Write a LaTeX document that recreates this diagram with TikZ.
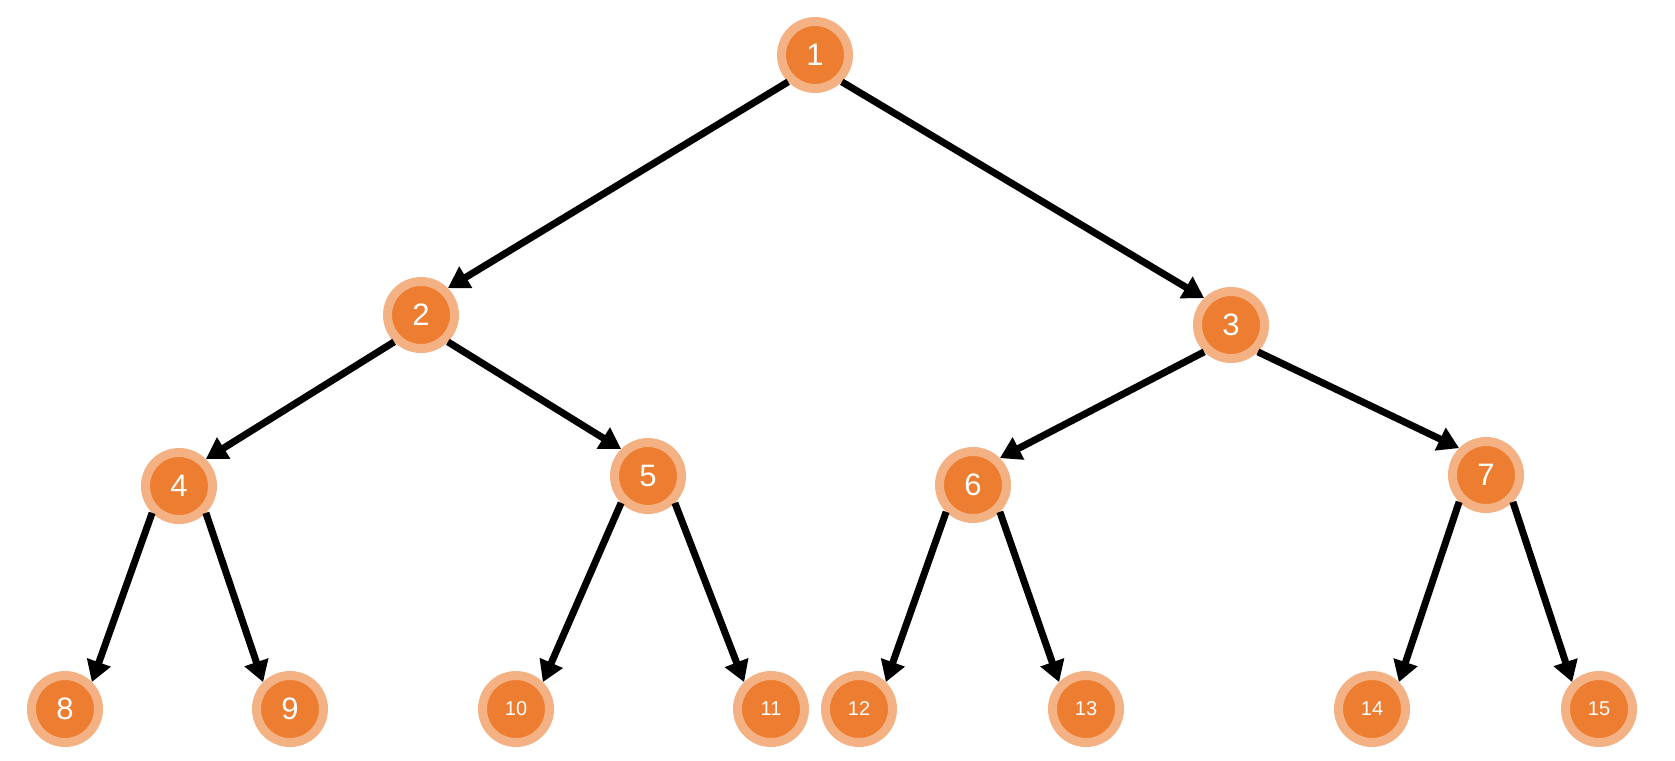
\documentclass[tikz,border=0pt]{standalone}
\usepackage{fontspec}
\setmainfont{Liberation Sans}
\usetikzlibrary{arrows.meta}
\definecolor{heaporange}{RGB}{237,125,49}
\definecolor{heapring}{RGB}{244,177,131}
\begin{document}
\begin{tikzpicture}[x=1pt,y=-1pt,
  vertex/.style={circle,fill=heaporange,draw=heapring,line width=9pt,
    minimum size=67pt,inner sep=0pt,text=white,font=\fontsize{31}{31}\selectfont},
  smallvertex/.style={vertex,font=\fontsize{20}{20}\selectfont},
  edge/.style={line width=7pt,-{Triangle[length=21pt,width=24pt]}}]
\useasboundingbox (0,0) rectangle (1675,760);
%\draw[step=100pt,gray,very thin] (0,0) grid (1675,760); %bckgr grid

\node[vertex] (n1) at (815,55) {1};
\node[vertex] (n2) at (421,315) {2};
\node[vertex] (n3) at (1231,325) {3};
\node[vertex] (n4) at (179,486) {4};
\node[vertex] (n5) at (648,476) {5};
\node[vertex] (n6) at (973,485) {6};
\node[vertex] (n7) at (1486,475) {7};
\node[vertex] (n8) at (65,709) {8};
\node[vertex] (n9) at (290,709) {9};
\node[smallvertex] (n10) at (516,709) {10};
\node[smallvertex] (n11) at (771,709) {11};
\node[smallvertex] (n12) at (859,709) {12};
\node[smallvertex] (n13) at (1086,709) {13};
\node[smallvertex] (n14) at (1372,709) {14};
\node[smallvertex] (n15) at (1599,709) {15};

% left child: south west -> north east, right child: south east -> north west
\draw[edge] (n1.south west) -- (n2.north east);
\draw[edge] (n1.south east) -- (n3.north west);
\draw[edge] (n2.south west) -- (n4.north east);
\draw[edge] (n2.south east) -- (n5.north west);
\draw[edge] (n3.south west) -- (n6.north east);
\draw[edge] (n3.south east) -- (n7.north west);
\draw[edge] (n4.south west) -- (n8.north east);
\draw[edge] (n4.south east) -- (n9.north west);
\draw[edge] (n5.south west) -- (n10.north east);
\draw[edge] (n5.south east) -- (n11.north west);
\draw[edge] (n6.south west) -- (n12.north east);
\draw[edge] (n6.south east) -- (n13.north west);
\draw[edge] (n7.south west) -- (n14.north east);
\draw[edge] (n7.south east) -- (n15.north west);

\end{tikzpicture}
\end{document}
